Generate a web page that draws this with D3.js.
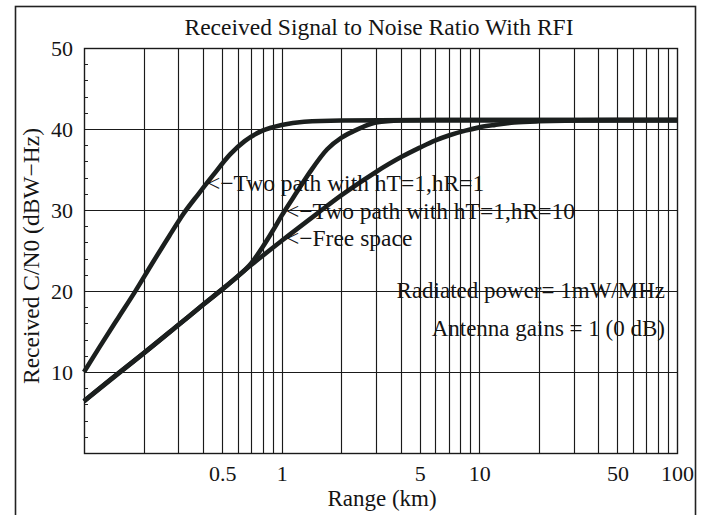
<!DOCTYPE html>
<html>
<head>
<meta charset="utf-8">
<script src="https://cdn.jsdelivr.net/npm/d3@7"></script>
<style>
  body { margin: 0; background: #fff; }
  text { font-family: "Liberation Serif", "Times New Roman", serif; fill: #141414; }
</style>
</head>
<body>
<svg id="chart" width="708" height="515"></svg>
<script>
// Received C/N0 (dBW-Hz) against range (km)
const twoPathR1Km = [0.1, 0.12, 0.15, 0.18, 0.22, 0.27, 0.32, 0.38, 0.45, 0.55, 0.65, 0.8, 1.0, 1.3, 2, 5, 100];
const twoPathR1Db = [10.0, 13.1, 16.8, 19.8, 23.3, 26.8, 29.6, 32.0, 34.3, 36.9, 38.5, 39.8, 40.5, 40.9, 41.05, 41.1, 41.1];

const twoPathR10Km = [0.1, 0.2, 0.3, 0.4, 0.5, 0.6, 0.7, 0.8, 0.9, 1.0, 1.2, 1.4, 1.7, 2.0, 2.3, 2.6, 3.0, 4, 6, 100];
const twoPathR10Db = [6.4, 12.3, 15.8, 18.3, 20.2, 21.8, 23.4, 25.4, 27.4, 29.3, 32.3, 34.8, 37.5, 38.9, 39.7, 40.3, 40.8, 41.05, 41.1, 41.1];

const freeSpaceKm = [0.1, 0.15, 0.2, 0.3, 0.4, 0.5, 0.7, 1.0, 1.5, 2.0, 3.0, 4.0, 5.0, 6.0, 7.0, 8.5, 10, 12, 15, 20, 50, 100];
const freeSpaceDb = [6.4, 9.9, 12.3, 15.8, 18.3, 20.2, 23.2, 26.2, 29.5, 31.8, 34.7, 36.5, 37.7, 38.6, 39.2, 39.8, 40.2, 40.5, 40.8, 40.95, 41.1, 41.1];

const xTickValues = [0.5, 1, 5, 10, 50, 100];
const xTickLabels = ["0.5", "1", "5", "10", "50", "100"];
const yTickValues = [10, 20, 30, 40, 50];
const yGridValues = [10, 20, 30, 40];

const titleText = "Received Signal to Noise Ratio With RFI";
const xAxisTitle = "Range (km)";
const yAxisTitle = "Received C/N0 (dBW\u2212Hz)";
const curveLabels = [
  "<\u2212Two path with hT=1,hR=1",
  "<\u2212Two path with hT=1,hR=10",
  "<\u2212Free space"
];
const noteLines = ["Radiated power= 1mW/MHz", "Antenna gains = 1 (0 dB)"];

const svg = d3.select("#chart");
const plotLeft = 84, plotRight = 677, plotTop = 48, plotBottom = 453;

const x = d3.scaleLog().domain([0.1, 100]).range([plotLeft, plotRight]);
const y = d3.scaleLinear().domain([0, 50]).range([plotBottom, plotTop]);

// outer frame
svg.append("rect")
  .attr("x", 15.5).attr("y", 6.5)
  .attr("width", 680).attr("height", 540)
  .attr("fill", "none").attr("stroke", "#222").attr("stroke-width", 1.6);

// title
svg.append("text")
  .attr("x", 379).attr("y", 35)
  .attr("text-anchor", "middle")
  .attr("font-size", 23.5)
  .text(titleText);

// grid
const grid = svg.append("g").attr("stroke", "#1a1a1a").attr("stroke-width", 1.15);
grid.selectAll("line.v")
  .data(x.ticks().filter(d => d > 0.1 && d < 100))
  .join("line").attr("class", "v")
  .attr("x1", d => Math.round(x(d)) + 0.5).attr("x2", d => Math.round(x(d)) + 0.5)
  .attr("y1", plotTop).attr("y2", plotBottom);
grid.selectAll("line.h")
  .data(yGridValues)
  .join("line").attr("class", "h")
  .attr("x1", plotLeft).attr("x2", plotRight)
  .attr("y1", d => Math.round(y(d)) + 0.5).attr("y2", d => Math.round(y(d)) + 0.5);

// minor ticks on the left edge
svg.append("g").attr("stroke", "#222").attr("stroke-width", 1)
  .selectAll("line")
  .data(d3.range(2, 50, 2).filter(d => d % 10 !== 0))
  .join("line")
  .attr("x1", plotLeft).attr("x2", plotLeft + 4)
  .attr("y1", d => Math.round(y(d)) + 0.5).attr("y2", d => Math.round(y(d)) + 0.5);

// plot border
svg.append("rect")
  .attr("x", plotLeft + 0.5).attr("y", plotTop + 0.5)
  .attr("width", plotRight - plotLeft).attr("height", plotBottom - plotTop)
  .attr("fill", "none").attr("stroke", "#1a1a1a").attr("stroke-width", 1.4);

// axes (labels only)
const xAxis = d3.axisBottom(x)
  .tickValues(xTickValues)
  .tickFormat((d, i) => xTickLabels[i])
  .tickSize(0).tickPadding(12);
const gx = svg.append("g").attr("transform", `translate(0,${plotBottom})`).call(xAxis);
gx.select(".domain").remove();
gx.selectAll("text").attr("font-size", 22).attr("font-family", null).attr("fill", null);

const yAxis = d3.axisLeft(y).tickValues(yTickValues).tickSize(0).tickPadding(11);
const gy = svg.append("g").attr("transform", `translate(${plotLeft},0)`).call(yAxis);
gy.select(".domain").remove();
gy.selectAll("text").attr("font-size", 22).attr("font-family", null).attr("fill", null);

svg.append("text")
  .attr("x", 382).attr("y", 506)
  .attr("text-anchor", "middle").attr("font-size", 23)
  .text(xAxisTitle);

svg.append("text")
  .attr("transform", "translate(39,256) rotate(-90)")
  .attr("text-anchor", "middle").attr("font-size", 23.5)
  .text(yAxisTitle);

// curves
const line = d3.line()
  .x(d => x(d[0])).y(d => y(d[1]))
  .curve(d3.curveMonotoneX);
const series = [
  d3.zip(freeSpaceKm, freeSpaceDb),
  d3.zip(twoPathR10Km, twoPathR10Db),
  d3.zip(twoPathR1Km, twoPathR1Db)
];
svg.append("g")
  .selectAll("path")
  .data(series)
  .join("path")
  .attr("d", line)
  .attr("fill", "none")
  .attr("stroke", "#1b1f1e")
  .attr("stroke-width", 4.6)
  .attr("stroke-linejoin", "round");

// curve labels
const labelPos = [[207, 191], [286, 219], [286, 246]];
svg.append("g").selectAll("text")
  .data(curveLabels)
  .join("text")
  .attr("x", (d, i) => labelPos[i][0])
  .attr("y", (d, i) => labelPos[i][1])
  .attr("font-size", 23.5)
  .text(d => d);

// notes
svg.append("g").selectAll("text")
  .data(noteLines)
  .join("text")
  .attr("x", 665)
  .attr("y", (d, i) => [298, 336][i])
  .attr("text-anchor", "end")
  .attr("font-size", 23)
  .text(d => d);
</script>
</body>
</html>
